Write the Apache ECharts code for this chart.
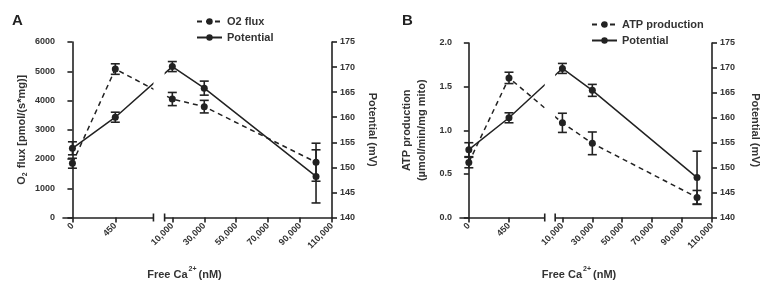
<!DOCTYPE html>
<html>
<head>
<meta charset="utf-8">
<script src="https://cdn.jsdelivr.net/npm/echarts@6.0.0/dist/echarts.min.js"></script>
<style>
html, body { margin: 0; padding: 0; background: #fff; }
#main { width: 764px; height: 285px; }
</style>
</head>
<body>
<div id="main"></div>
<script>
//---数据定义区----------------------------------
var caValues = [0, 450, 10000, 30000, 100000];
var o2Flux = [1855, 5075, 4050, 3790, 1890];
var o2FluxErr = [170, 180, 225, 215, 650];
var potentialA = [153.8, 160.0, 170.1, 165.8, 148.2];
var potentialAErr = [1.3, 1.0, 1.0, 1.4, 5.3];
var atpProd = [0.63, 1.60, 1.085, 0.85, 0.23];
var atpProdErr = [0.06, 0.065, 0.11, 0.13, 0.08];
var potentialB = [153.6, 160.0, 169.9, 165.5, 148.0];
var potentialBErr = [1.4, 1.0, 1.0, 1.2, 5.3];
var xTickValues = [0, 450, 10000, 30000, 50000, 70000, 90000, 110000];
var xTickLabels = ['0', '450', '10,000', '30,000', '50,000', '70,000', '90,000', '110,000'];
//----------------------------------------------

//---常量定义区----------------------------------
var FONT = '"Liberation Sans", Arial, sans-serif';
var INK = '#222';
var TXT = '#333';
var BREAK_FROM = 1.89, BREAK_TO = 2.15; // 断轴位置 (变换后坐标)
//----------------------------------------------

// 断轴: 0~450 一段, 10,000~110,000 一段
function caToPos(v) {
    if (v <= 450) return v / 450;
    return 2.33 + (v - 10000) / 20000 * 0.745;
}

function tickLabel(pos) {
    for (var i = 0; i < xTickValues.length; i++) {
        if (Math.abs(caToPos(xTickValues[i]) - pos) < 1e-6) return xTickLabels[i];
    }
    return '';
}

var txt = function (size, extra) {
    var o = { fontSize: size, fontWeight: 'bold', color: TXT, fontFamily: FONT };
    for (var k in extra) o[k] = extra[k];
    return o;
};

//---坐标轴----------------------------------
var makeXAxis = function (gridIndex, shift) {
    var ticks = xTickValues.map(caToPos);
    return {
        type: 'value', gridIndex: gridIndex, min: -0.22, max: 6.055,
        splitLine: { show: false },
        axisLine: { onZero: false, lineStyle: { color: INK, width: 1.6 } },
        axisTick: { customValues: ticks, length: 5, lineStyle: { color: INK, width: 1.6 } },
        axisLabel: txt(9, { customValues: ticks, rotate: 45, formatter: tickLabel, margin: 7 }),
        name: '{t|Free Ca}{sup|2+}{t|(nM)}',
        nameLocation: 'middle', nameGap: 48,
        nameTextStyle: txt(11, {
            padding: [0, shift, 0, 0],
            rich: {
                t: txt(11, { lineHeight: 18 }),
                sup: txt(7, { verticalAlign: 'top', padding: [0, 2, 0, 1] })
            }
        })
    };
};

var makeYAxis = function (gridIndex, position, min, max, interval, name, opt) {
    return {
        type: 'value', gridIndex: gridIndex, position: position,
        min: min, max: max, interval: interval,
        splitLine: { show: false },
        axisLine: { show: true, lineStyle: { color: INK, width: 1.6 } },
        axisTick: { show: true, length: 5, lineStyle: { color: INK, width: 1.6 } },
        axisLabel: txt(9, { margin: 8, formatter: opt.fmt }),
        name: name, nameLocation: 'middle', nameGap: opt.gap, nameRotate: opt.rotate,
        nameTextStyle: txt(11, { lineHeight: 15, rich: opt.rich })
    };
};

//---系列----------------------------------
var lineSeries = function (name, xIdx, yIdx, values, dashed) {
    return {
        name: name, type: 'line', xAxisIndex: xIdx, yAxisIndex: yIdx,
        data: caValues.map(function (c, i) { return [caToPos(c), values[i]]; }),
        symbol: 'circle', symbolSize: 7, z: 4,
        itemStyle: { color: INK },
        lineStyle: { color: INK, width: 1.5, type: dashed ? [5, 4] : 'solid' }
    };
};

var errorSeries = function (xIdx, yIdx, values, errs) {
    return {
        type: 'custom', xAxisIndex: xIdx, yAxisIndex: yIdx, z: 3, silent: true,
        encode: { x: 0, y: [1, 2] },
        data: caValues.map(function (c, i) {
            return [caToPos(c), values[i] - errs[i], values[i] + errs[i]];
        }),
        renderItem: function (params, api) {
            var lo = api.coord([api.value(0), api.value(1)]);
            var hi = api.coord([api.value(0), api.value(2)]);
            var w = 4.5;
            var st = { stroke: INK, lineWidth: 1.6 };
            return {
                type: 'group', children: [
                    { type: 'line', shape: { x1: lo[0], y1: lo[1], x2: hi[0], y2: hi[1] }, style: st },
                    { type: 'line', shape: { x1: lo[0] - w, y1: lo[1], x2: lo[0] + w, y2: lo[1] }, style: st },
                    { type: 'line', shape: { x1: hi[0] - w, y1: hi[1], x2: hi[0] + w, y2: hi[1] }, style: st }
                ]
            };
        }
    };
};

var legend = function (left, top, names) {
    return {
        orient: 'vertical', left: left, top: top, padding: 0,
        itemWidth: 25, itemHeight: 8, itemGap: 5,
        data: names, textStyle: txt(11)
    };
};

//---初始化----------------------------------
var chart = echarts.init(document.getElementById('main'), null, { renderer: 'canvas' });

var subRich = {
    t: txt(11),
    sub: txt(7, { verticalAlign: 'bottom', padding: [0, 1, 0, 0] })
};

chart.setOption({
    animation: false,
    backgroundColor: '#fff',
    title: [
        { text: 'A', left: 12, top: 13, padding: 0, textStyle: txt(15, { color: '#222' }) },
        { text: 'B', left: 402, top: 13, padding: 0, textStyle: txt(15, { color: '#222' }) }
    ],
    legend: [
        legend(196, 16, ['O2 flux', 'Potential']),
        legend(591, 19, ['ATP production', 'Potential'])
    ],
    grid: [
        { left: 63, right: 432, top: 42, bottom: 66 },
        { left: 460, right: 41, top: 43, bottom: 66 }
    ],
    xAxis: [makeXAxis(0, 26), makeXAxis(1, 14)],
    yAxis: [
        makeYAxis(0, 'left', 0, 6000, 1000, '{t|O}{sub|2}{t| flux [pmol/(s*mg)]}', {
            gap: 34, rich: subRich, fmt: function (v) { return String(v); }
        }),
        makeYAxis(0, 'right', 140, 175, 5, 'Potential (mV)', { gap: 33, rotate: -90 }),
        makeYAxis(1, 'left', 0, 2, 0.5, 'ATP production\n(µmol/min/mg mito)', {
            gap: 31, fmt: function (v) { return v.toFixed(1); }
        }),
        makeYAxis(1, 'right', 140, 175, 5, 'Potential (mV)', { gap: 36, rotate: -90 })
    ],
    series: [
        errorSeries(0, 0, o2Flux, o2FluxErr),
        errorSeries(0, 1, potentialA, potentialAErr),
        lineSeries('O2 flux', 0, 0, o2Flux, true),
        lineSeries('Potential', 0, 1, potentialA, false),
        errorSeries(1, 2, atpProd, atpProdErr),
        errorSeries(1, 3, potentialB, potentialBErr),
        lineSeries('ATP production', 1, 2, atpProd, true),
        lineSeries('Potential', 1, 3, potentialB, false)
    ]
});

//---断轴标记----------------------------------
var drawBreaks = function () {
    var g = [];
    [0, 1].forEach(function (gi) {
        var yIdx = gi * 2;
        var x1 = chart.convertToPixel({ xAxisIndex: gi }, BREAK_FROM);
        var x2 = chart.convertToPixel({ xAxisIndex: gi }, BREAK_TO);
        var yBase = chart.convertToPixel({ yAxisIndex: yIdx }, 0);
        var yTop = chart.convertToPixel({ yAxisIndex: yIdx }, gi ? 2 : 6000);
        g.push({
            type: 'rect', z: 100, silent: true,
            shape: { x: x1, y: yTop, width: x2 - x1, height: yBase - yTop + 3 },
            style: { fill: '#fff' }
        });
        [x1, x2].forEach(function (x) {
            g.push({
                type: 'line', z: 101, silent: true,
                shape: { x1: x, y1: yBase - 4, x2: x, y2: yBase + 4 },
                style: { stroke: INK, lineWidth: 1.6 }
            });
        });
    });
    chart.setOption({ graphic: g });
};
drawBreaks();
</script>
</body>
</html>
